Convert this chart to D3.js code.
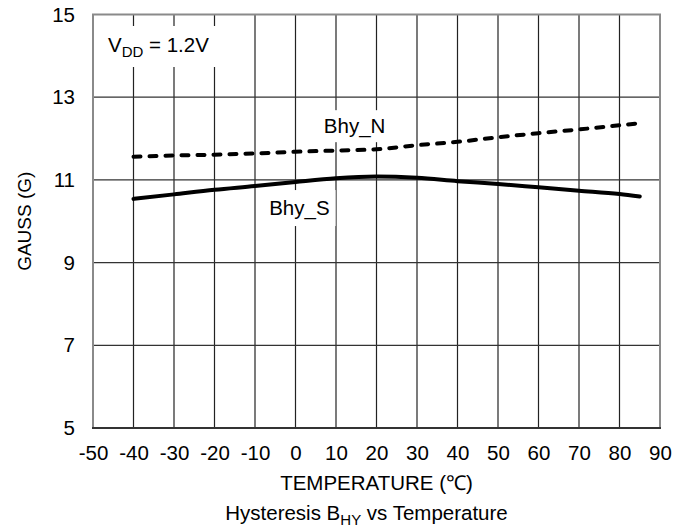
<!DOCTYPE html>
<html>
<head>
<meta charset="utf-8">
<script src="https://cdn.jsdelivr.net/npm/d3@7"></script>
<style>
    body { margin: 0; background: #fff; }
    text { font-family: "Liberation Sans", Arial, sans-serif; fill: #000; }
</style>
</head>
<body>
<div id="chart"></div>
<script>
// data
var temps = [-40, -30, -20, -10, 0, 10, 20, 30, 40, 50, 60, 70, 80, 85];
var bhyN = [11.56, 11.59, 11.61, 11.64, 11.68, 11.71, 11.74, 11.84, 11.92, 12.03, 12.13, 12.22, 12.32, 12.37];
var bhyS = [10.54, 10.65, 10.76, 10.85, 10.95, 11.04, 11.08, 11.05, 10.97, 10.90, 10.82, 10.74, 10.66, 10.60];
var xTicks = [-50, -40, -30, -20, -10, 0, 10, 20, 30, 40, 50, 60, 70, 80, 90];
var yTicks = [5, 7, 9, 11, 13, 15];

var margin = { top: 14.5, right: 31, bottom: 101, left: 93 },
    width = 691 - margin.left - margin.right,
    height = 529 - margin.top - margin.bottom;
var fontSize = 20.5;

var svg = d3.select("#chart").append("svg")
    .attr("width", 691)
    .attr("height", 529);

var g = svg.append("g")
    .attr("transform", "translate(" + margin.left + "," + margin.top + ")");

var xScale = d3.scaleLinear()
    .domain([-50, 90])
    .range([0, width]);

var yScale = d3.scaleLinear()
    .domain([5, 15])
    .range([height, 0]);

// grid
g.append("g")
    .selectAll("line")
    .data(xTicks.slice(1, -1))
    .enter()
    .append("line")
    .attr("x1", function (d) { return xScale(d); })
    .attr("x2", function (d) { return xScale(d); })
    .attr("y1", 0)
    .attr("y2", height)
    .attr("stroke", "#222")
    .attr("stroke-width", 1.2);

g.append("g")
    .selectAll("line")
    .data(yTicks.slice(1, -1))
    .enter()
    .append("line")
    .attr("x1", 0)
    .attr("x2", width)
    .attr("y1", function (d) { return yScale(d); })
    .attr("y2", function (d) { return yScale(d); })
    .attr("stroke", "#333")
    .attr("stroke-width", 1.2);

// axes (labels only, the frame is drawn separately)
var plain = function (d) { return String(d); };   // keep the hyphen minus
var xAxis = d3.axisBottom(xScale).tickValues(xTicks).tickFormat(plain).tickSize(0).tickPadding(17);
var yAxis = d3.axisLeft(yScale).tickValues(yTicks).tickFormat(plain).tickSize(0).tickPadding(18);

var xg = g.append("g")
    .attr("transform", "translate(0," + height + ")")
    .call(xAxis);
var yg = g.append("g").call(yAxis);
[xg, yg].forEach(function (a) {
    a.select(".domain").remove();
    a.selectAll("text")
        .style("font-size", fontSize + "px")
        .style("font-family", "'Liberation Sans', Arial, sans-serif")
        .attr("fill", "#000");
});

// frame
g.append("rect")
    .attr("x", 0)
    .attr("y", 0)
    .attr("width", width)
    .attr("height", height)
    .attr("fill", "none")
    .attr("stroke", "#8a8a8a")
    .attr("stroke-width", 2);
g.append("line")
    .attr("x1", -1).attr("x2", width + 1)
    .attr("y1", height).attr("y2", height)
    .attr("stroke", "#333")
    .attr("stroke-width", 2);

// label boxes cover the grid
function boxedLabel(x, y, pad) {
    var lg = g.append("g");
    var bg = lg.append("rect").attr("fill", "#fff");
    var t = lg.append("text")
        .attr("x", x)
        .attr("y", y)
        .style("font-size", fontSize + "px");
    return { t: t, fit: function () {
        var b = t.node().getBBox();
        bg.attr("x", b.x - pad[0]).attr("y", b.y - pad[1])
          .attr("width", b.width + 2 * pad[0]).attr("height", b.height + 2 * pad[1]);
    } };
}

var vdd = boxedLabel(15, 37.5, [10, 7]);
vdd.t.append("tspan").text("V");
vdd.t.append("tspan").attr("dy", 5).style("font-size", "15px").text("DD");
vdd.t.append("tspan").attr("dy", -5).text(" = 1.2V");
vdd.fit();

var labN = boxedLabel(xScale(7), yScale(12.13), [6, 4]);
labN.t.text("Bhy_N");
labN.fit();

var labS = boxedLabel(xScale(-6.5), yScale(10.15), [6, 6]);
labS.t.text("Bhy_S");
labS.fit();

// lines
var line = d3.line()
    .x(function (d) { return xScale(d[0]); })
    .y(function (d) { return yScale(d[1]); })
    .curve(d3.curveMonotoneX);

g.append("path")
    .datum(d3.zip(temps, bhyS))
    .attr("d", line)
    .attr("fill", "none")
    .attr("stroke", "#000")
    .attr("stroke-width", 4)
    .attr("stroke-linecap", "round");

g.append("path")
    .datum(d3.zip(temps, bhyN))
    .attr("d", line)
    .attr("fill", "none")
    .attr("stroke", "#000")
    .attr("stroke-width", 4)
    .attr("stroke-linecap", "round")
    .attr("stroke-dasharray", "7,9");

// axis titles
g.append("text")
    .attr("x", width / 2)
    .attr("y", height + 62)
    .attr("text-anchor", "middle")
    .style("font-size", fontSize + "px")
    .text("TEMPERATURE (\u2103)");

var title = g.append("text")
    .attr("x", width / 2 - 10)
    .attr("y", height + 92)
    .attr("text-anchor", "middle")
    .style("font-size", fontSize + "px");
title.append("tspan").text("Hysteresis B");
title.append("tspan").attr("dy", 5).style("font-size", "15px").text("HY");
title.append("tspan").attr("dy", -5).text(" vs Temperature");

g.append("text")
    .attr("transform", "translate(" + (-62) + "," + (height / 2) + ") rotate(-90)")
    .attr("text-anchor", "middle")
    .style("font-size", "19px")
    .text("GAUSS (G)");
</script>
</body>
</html>
